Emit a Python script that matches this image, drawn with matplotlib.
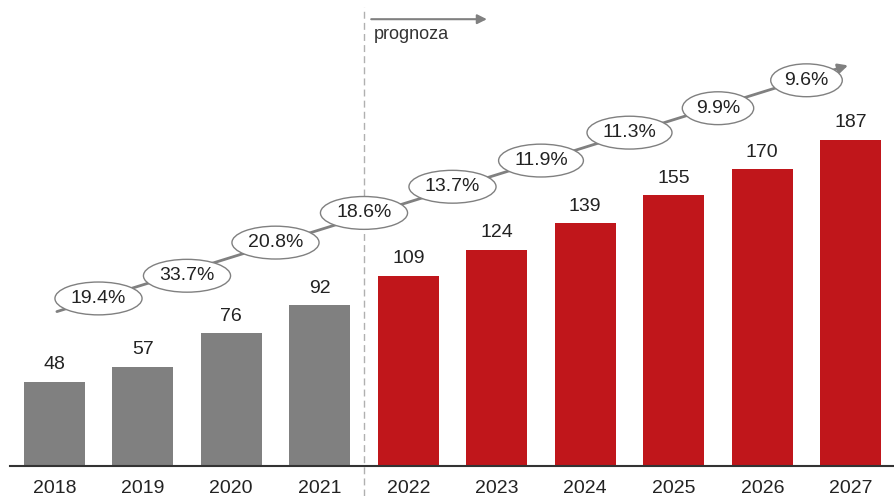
import matplotlib.pyplot as plt
import numpy as np

plt.rcParams['font.family'] = ['Liberation Sans', 'DejaVu Sans']

years = ['2018', '2019', '2020', '2021', '2022', '2023', '2024', '2025', '2026', '2027']
values = [48, 57, 76, 92, 109, 124, 139, 155, 170, 187]
n_actual = 4  # the rest are forecast

growth = ['19.4%', '33.7%', '20.8%', '18.6%', '13.7%', '11.9%', '11.3%', '9.9%', '9.6%']
growth_y = [96, 109, 128, 145, 160, 175, 191, 205, 221]

GREY = '#808080'
RED = '#C0161B'

fig = plt.figure(figsize=(8.95, 4.96), dpi=100)
ax = fig.add_axes([10 / 895, 30 / 496, 885 / 895, 466 / 496])

x = np.arange(len(years))
colors = [GREY] * n_actual + [RED] * (len(years) - n_actual)
ax.bar(x, values, width=0.69, color=colors, zorder=2)

for xi, v in zip(x, values):
    ax.text(xi, v + 5, str(v), ha='center', va='bottom', fontsize=14, color='#222222')

ax.set_xlim(-0.5, 9.5)
ax.set_ylim(0, 267)
ax.set_xticks(x)
ax.set_xticklabels(years, fontsize=14, color='#222222')
ax.tick_params(axis='x', length=0, pad=10)
ax.set_yticks([])
for side in ['top', 'right', 'left']:
    ax.spines[side].set_visible(False)
ax.spines['bottom'].set_color('#333333')
ax.spines['bottom'].set_linewidth(1.5)

# boundary between actual and forecast
ax.axvline(n_actual - 0.5, ymin=-0.065, ymax=0.985, color='#b0b0b0',
           linestyle=(0, (5, 3)), linewidth=1, clip_on=False, zorder=1)
ax.annotate('', xy=(4.92, 256), xytext=(n_actual - 0.45, 256),
            arrowprops=dict(arrowstyle='-|>', color=GREY, lw=1.5, mutation_scale=14))
ax.text(n_actual - 0.39, 247, 'prognoza', ha='left', va='center', fontsize=13, color='#333333')

# growth-rate trend line
ax.annotate('', xy=(9.0, 230), xytext=(0.0, 88),
            arrowprops=dict(arrowstyle='-|>', color=GREY, lw=2, mutation_scale=14), zorder=3)
for i, (g, gy) in enumerate(zip(growth, growth_y)):
    ax.text(i + 0.5, gy, g, ha='center', va='center', fontsize=14, color='#222222', zorder=4,
            bbox=dict(boxstyle='ellipse,pad=0.16', fc='white', ec=GREY, lw=1))

fig.savefig('out.png', dpi=100, facecolor='white')
